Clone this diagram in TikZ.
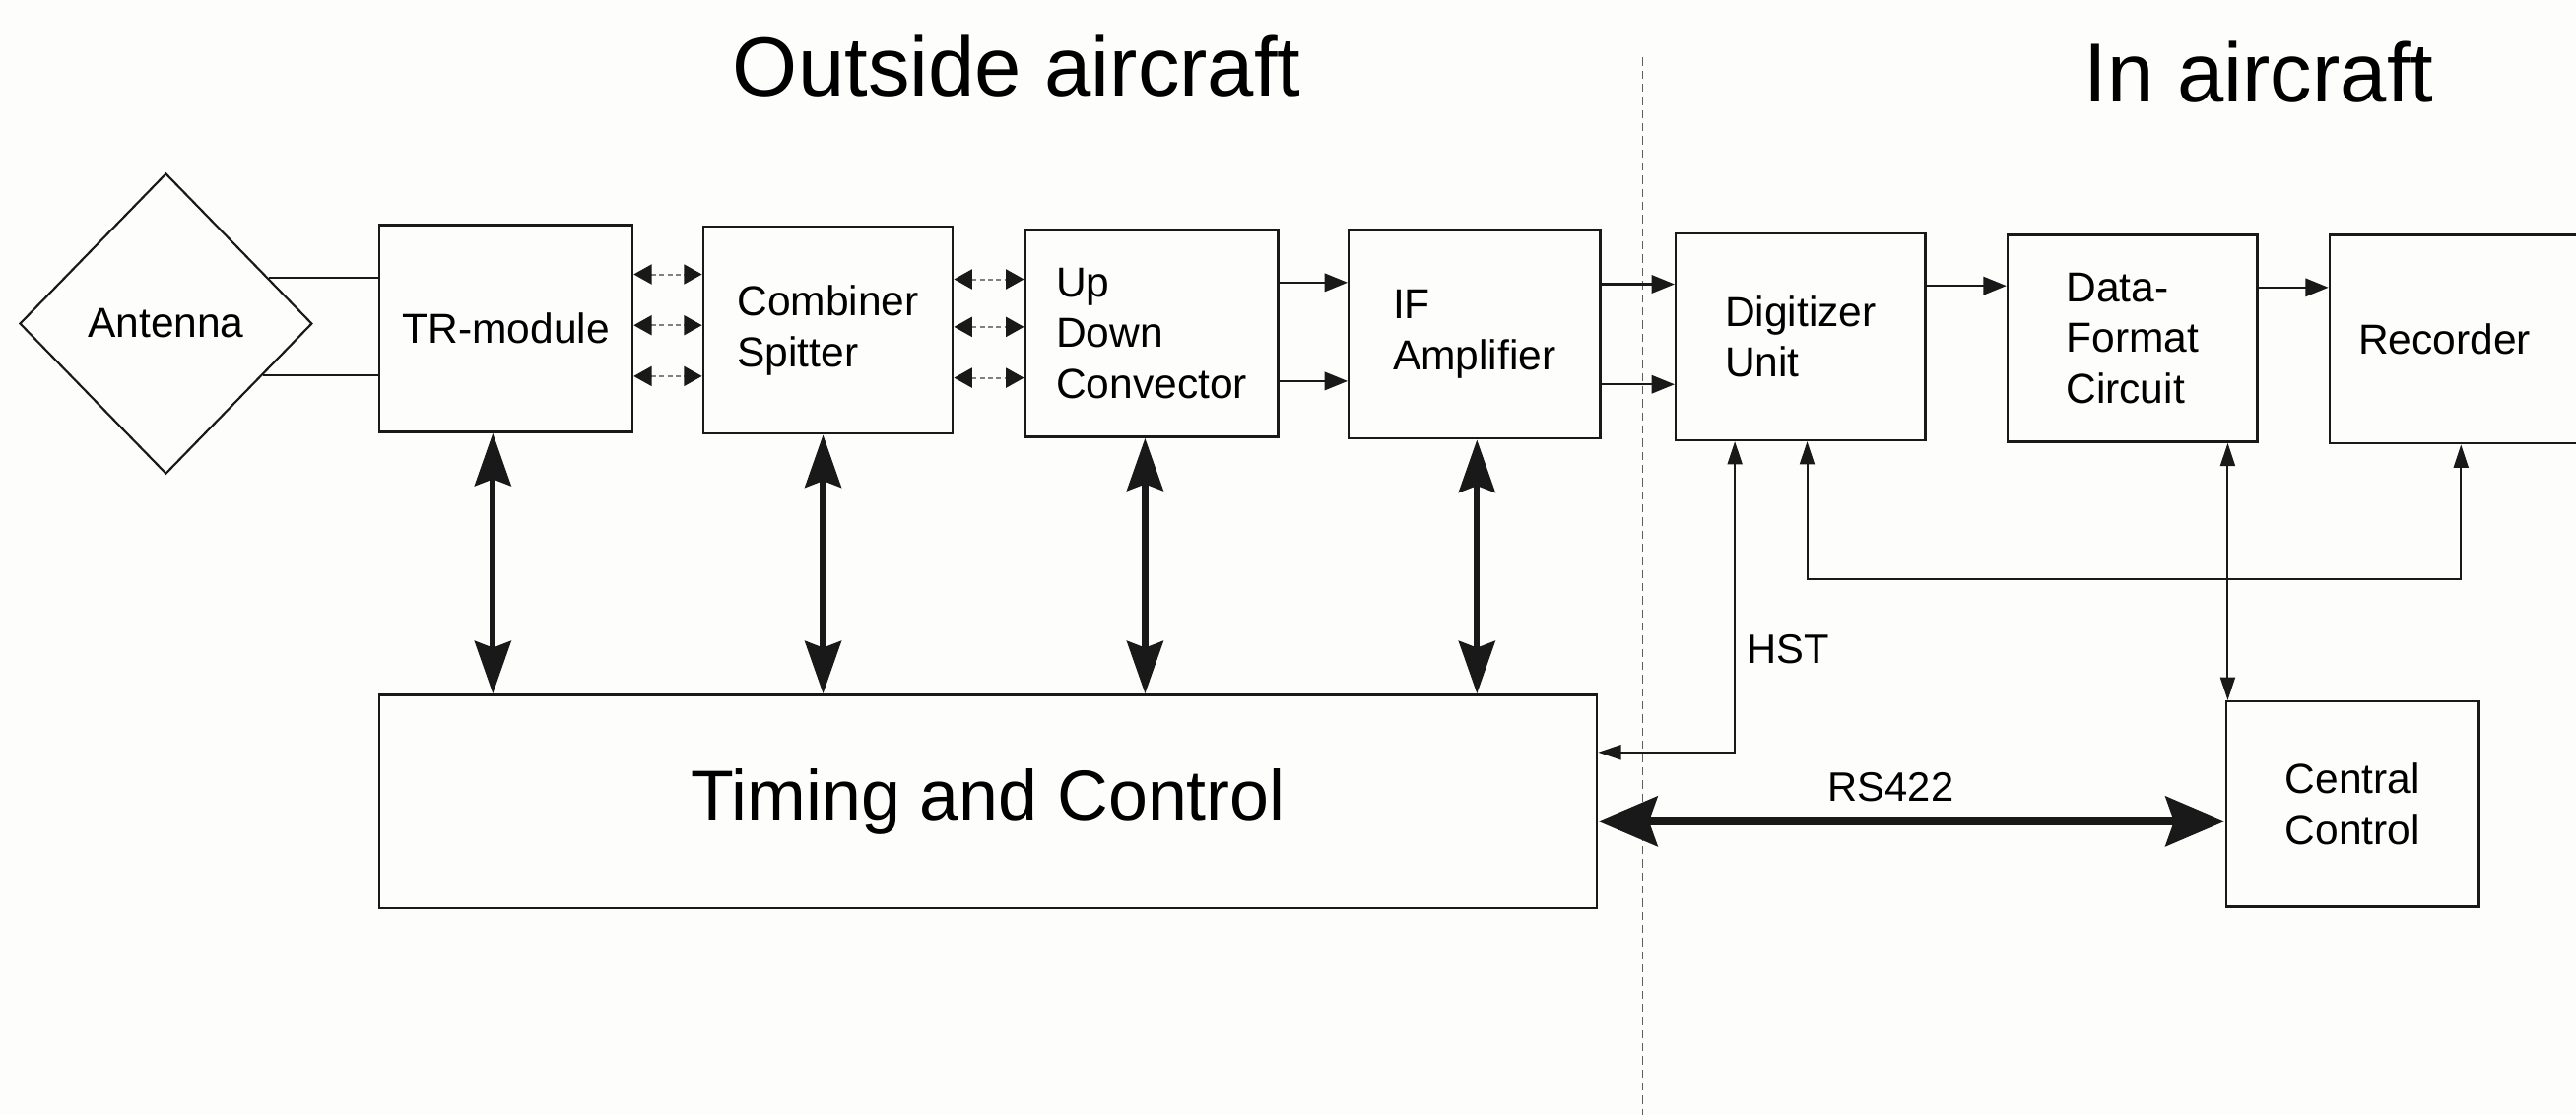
\documentclass[tikz,border=0pt]{standalone}
\usepackage{fontspec}
\setmainfont{Liberation Sans}
\usetikzlibrary{arrows.meta,shapes.geometric,calc}
\definecolor{ink}{RGB}{25,25,25}
\definecolor{paper}{RGB}{253,253,251}
\begin{document}
\begin{tikzpicture}[x=1pt,y=-1pt,
  box/.style={draw=ink, line width=1.4pt, rectangle, inner sep=0pt, align=left,
    font=\fontsize{25.5}{31}\selectfont},
  title/.style={font=\fontsize{51}{60}\selectfont, inner sep=0pt},
  lbl/.style={font=\fontsize{25}{30}\selectfont, inner sep=0pt},
  plain/.style={draw=ink, line width=1.2pt},
  thinarr/.style={draw=ink, line width=1.4pt, -{Triangle[length=14pt,width=11pt]}},
  dblsmall/.style={draw=ink!55, line width=1.2pt, densely dashed,
    {Triangle[length=11pt,width=12pt,color=ink]}-{Triangle[length=11pt,width=12pt,color=ink]}},
  bigarr/.style={draw=ink, line width=3.8pt,
    {Stealth[length=32pt,width=22pt,inset=4pt]}-{Stealth[length=32pt,width=22pt,inset=4pt]}},
  rsarr/.style={draw=ink, line width=5.5pt,
    {Stealth[length=36pt,width=30pt,inset=5pt]}-{Stealth[length=36pt,width=30pt,inset=5pt]}},
  fb/.style={draw=ink, line width=1.2pt,
    {Triangle[length=14pt,width=9pt]}-{Triangle[length=14pt,width=9pt]}},
  divider/.style={draw=ink!70, line width=0.8pt, dash pattern=on 5pt off 3pt}
]
\fill[paper] (0,0) rectangle (1568,679);
\useasboundingbox (0,0) rectangle (1568,679);

% titles
\node[title] (tOut) at (619,40) {Outside aircraft};
\node[title] (tIn) at (1375,44) {In aircraft};

% divider
\coordinate (dTop) at (1000,35);
\coordinate (dBot) at (1000,679);
\draw[divider] (dTop) -- (dBot);

% antenna
\node[draw=ink, line width=1.3pt, diamond, minimum width=178, minimum height=183,
  inner sep=0pt, font=\fontsize{25.5}{31}\selectfont] (ANT) at (101,197) {Antenna};

% boxes
\node[box, minimum width=154, minimum height=126] (TR) at (308,200) {TR-module};
\node[box, minimum width=152, minimum height=126] (CS) at (504,201) {Combiner\\Spitter};
\node[box, minimum width=154, minimum height=126] (UD) at (701,203) {Up\\Down\\Convector};
\node[box, minimum width=153, minimum height=127] (IF) at (897.5,203.5) {IF\\Amplifier};
\node[box, minimum width=152, minimum height=126] (DG) at (1096,205) {Digitizer\\Unit};
\node[box, minimum width=152, minimum height=126] (DF) at (1298,206) {Data-\\Format\\Circuit};
\node[box, minimum width=162, minimum height=127,
  label={[xshift=-11pt, font=\fontsize{25.5}{31}\selectfont]center:Recorder}] (RC) at (1499,206.5) {};
\node[box, minimum width=741, minimum height=130, font=\fontsize{43}{50}\selectfont] (TC) at (601.5,488) {Timing and Control};
\node[box, minimum width=154, minimum height=125] (CC) at (1432,489.5) {Central\\Control};

% antenna lines
\draw[plain] (ANT.24) -- (ANT.24 -| TR.west);
\draw[plain] (ANT.-28) -- (ANT.-28 -| TR.west);

% small double arrows
\foreach \yy in {167,198,229}{
  \draw[dblsmall] (TR.east |- 0,\yy) -- (CS.west |- 0,\yy);
}
\foreach \yy in {170,199,230}{
  \draw[dblsmall] (CS.east |- 0,\yy) -- (UD.west |- 0,\yy);
}

% thin signal arrows
\draw[thinarr] (UD.east |- 0,172) -- (IF.west |- 0,172);
\draw[thinarr] (UD.east |- 0,232) -- (IF.west |- 0,232);
\draw[thinarr] (IF.east |- 0,173) -- (DG.west |- 0,173);
\draw[thinarr] (IF.east |- 0,234) -- (DG.west |- 0,234);
\draw[thinarr] (DG.east |- 0,174) -- (DF.west |- 0,174);
\draw[thinarr] (DF.east |- 0,175) -- (RC.west |- 0,175);

% thick control arrows
\draw[bigarr] (TR.south -| 300,0) -- (TC.north -| 300,0);
\draw[bigarr] (CS.south -| 501,0) -- (TC.north -| 501,0);
\draw[bigarr] (UD.south -| 697,0) -- (TC.north -| 697,0);
\draw[bigarr] (IF.south -| 899,0) -- (TC.north -| 899,0);

% HST
\draw[fb] (TC.east |- 0,458) -| (DG.south -| 1056,0);
\node[lbl, anchor=west] (hst) at (1063,395) {HST};

% recorder loop
\draw[fb] (DG.south -| 1100,0) -- ++(0,84) -| (RC.south -| 1498,0);

% data-format to central control
\draw[fb] (DF.south -| 1356,0) -- (CC.north -| 1356,0);

% RS422
\draw[rsarr] (TC.east |- 0,500) -- (CC.west |- 0,500);
\node[lbl] (rs) at (1151,479) {RS422};
\end{tikzpicture}
\end{document}
